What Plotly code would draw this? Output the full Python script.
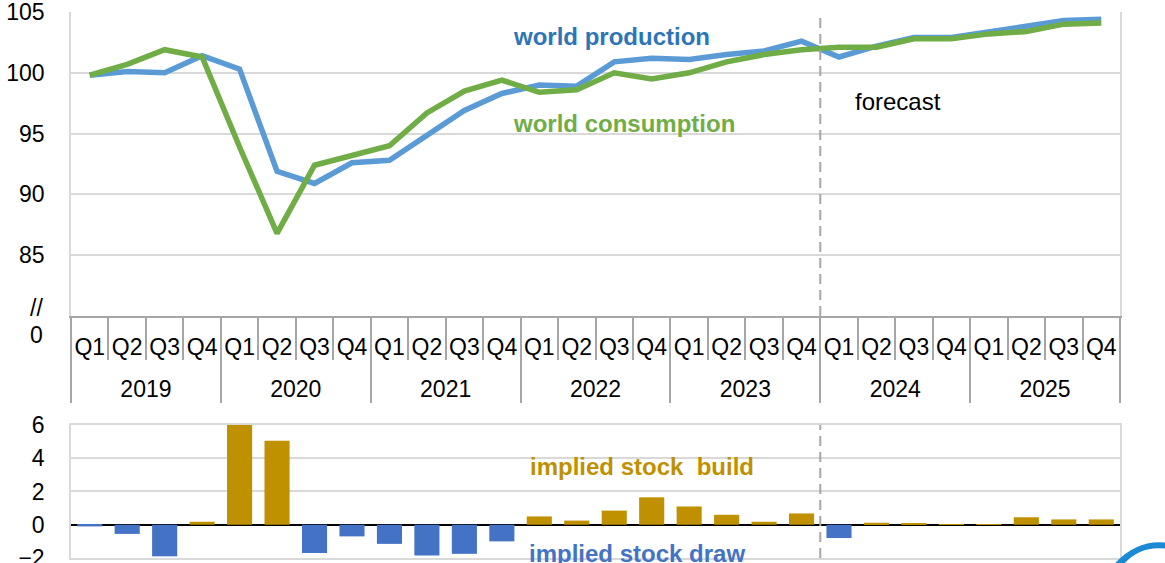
import plotly.graph_objects as go

# Quarterly periods shown on the category axis
years = ["2019", "2020", "2021", "2022", "2023", "2024", "2025"]
quarters = ["Q1", "Q2", "Q3", "Q4"]
cat_year = [y for y in years for _ in quarters]
cat_quarter = [q for _ in years for q in quarters]

# World production and consumption index (top panel)
production = [99.8, 100.1, 100.0, 101.4, 100.3, 91.9, 90.9, 92.6,
              92.8, 94.9, 96.9, 98.3, 99.0, 98.9, 100.9, 101.2,
              101.1, 101.5, 101.8, 102.6, 101.3, 102.2, 102.9, 102.9,
              103.4, 103.9, 104.3, 104.4]
consumption = [99.8, 100.7, 101.9, 101.3, 93.9, 86.8, 92.4, 93.2,
               94.0, 96.7, 98.5, 99.4, 98.4, 98.6, 100.0, 99.5,
               100.0, 100.9, 101.5, 101.9, 102.1, 102.1, 102.8, 102.8,
               103.2, 103.4, 104.0, 104.1]

# Implied stock change (bottom panel)
stock_change = [-0.1, -0.55, -1.9, 0.18, 6.4, 5.05, -1.7, -0.7,
                -1.15, -1.85, -1.75, -1.0, 0.5, 0.25, 0.85, 1.65,
                1.1, 0.6, 0.18, 0.68, -0.8, 0.12, 0.09, 0.02,
                0.01, 0.45, 0.32, 0.32]

forecast_start_year = "2024"

FONT = "Liberation Sans, Arial, sans-serif"
BLUE_LINE = "#5B9BD5"
GREEN_LINE = "#70AD47"
GOLD = "#BF9000"
BAR_BLUE = "#4472C4"
GRID = "#D9D9D9"
AXIS = "#A6A6A6"

# Index positions of the quarters along the shared time axis
n = len(cat_quarter)
pos = list(range(n))
q_bounds = [i - 0.5 for i in range(n + 1)]
per_year = len(quarters)
year_centers = [k * per_year + (per_year - 1) / 2 for k in range(len(years))]
year_bounds = [k * per_year - 0.5 for k in range(len(years) + 1)]
forecast_start = cat_year.index(forecast_start_year) - 0.5
x_range = [-0.5, n - 0.5]

TOP_BOTTOM = 0.4432  # lower edge of the top panel (paper fraction)

fig = go.Figure()

fig.add_trace(go.Scatter(x=pos, y=production, mode="lines",
                         line=dict(color=BLUE_LINE, width=5.5),
                         name="world production", xaxis="x", yaxis="y"))
fig.add_trace(go.Scatter(x=pos, y=consumption, mode="lines",
                         line=dict(color=GREEN_LINE, width=5.5),
                         name="world consumption", xaxis="x", yaxis="y"))
# empty carrier so the year axis gets drawn
fig.add_trace(go.Scatter(x=year_centers, y=[None] * len(year_centers), mode="lines",
                         hoverinfo="skip", showlegend=False, xaxis="x3", yaxis="y"))

bar_colors = [GOLD if v >= 0 else BAR_BLUE for v in stock_change]
fig.add_trace(go.Bar(x=pos, y=stock_change, marker=dict(color=bar_colors, line=dict(width=0)),
                     width=0.67, name="implied stock change", xaxis="x2", yaxis="y2"))

fig.update_layout(
    width=1165, height=563,
    margin=dict(l=71, r=45, t=12, b=5, autoexpand=False),
    paper_bgcolor="white", plot_bgcolor="white",
    showlegend=False,
    font=dict(family=FONT, size=23, color="black"),
    # quarter labels with a separator at every quarter boundary
    xaxis=dict(
        domain=[0, 1], anchor="y", range=x_range, automargin=False,
        showgrid=False, zeroline=False,
        showline=True, linecolor=AXIS, linewidth=2,
        tickmode="array", tickvals=pos, ticktext=cat_quarter, ticks="",
        ticklabelstandoff=9, tickfont=dict(size=23),
        minor=dict(tickmode="array", tickvals=q_bounds, ticks="outside",
                   ticklen=42, tickcolor=AXIS, tickwidth=1.5, showgrid=False),
    ),
    # year labels with full-height separators between years
    xaxis3=dict(
        overlaying="x", anchor="free", position=TOP_BOTTOM, range=x_range,
        automargin=False, showgrid=False, zeroline=False, showline=False,
        tickmode="array", tickvals=year_centers, ticktext=years, ticks="",
        ticklabelstandoff=57, tickfont=dict(size=23),
        minor=dict(tickmode="array", tickvals=year_bounds, ticks="outside",
                   ticklen=86, tickcolor=AXIS, tickwidth=1.5, showgrid=False),
    ),
    yaxis=dict(
        domain=[TOP_BOTTOM, 1], anchor="x", automargin=False,
        range=[80, 105], tickvals=[85, 90, 95, 100, 105],
        showgrid=True, gridcolor=GRID, gridwidth=1.5,
        zeroline=False,
        showline=True, linecolor=GRID, linewidth=1.5, mirror=True,
        ticks="", ticklabelstandoff=20, ticklabeloverflow="allow",
    ),
    xaxis2=dict(
        domain=[0, 1], anchor="y2", range=x_range, automargin=False,
        showticklabels=False, ticks="",
        showgrid=False, zeroline=False,
        showline=True, linecolor=GRID, linewidth=1.5, mirror=True,
    ),
    yaxis2=dict(
        domain=[0, 0.2436], anchor="x2", automargin=False,
        range=[-2, 6], tickvals=[-2, 0, 2, 4, 6],
        showgrid=True, gridcolor=GRID, gridwidth=1.5,
        zeroline=True, zerolinecolor="black", zerolinewidth=2,
        showline=True, linecolor=GRID, linewidth=1.5, mirror=True,
        ticks="", ticklabelstandoff=20, ticklabeloverflow="allow",
    ),
)

# Forecast divider in both panels
dash = dict(color=AXIS, width=2, dash="10px,6px")
fig.add_shape(type="line", xref="x", yref="y", x0=forecast_start, x1=forecast_start,
              y0=80, y1=105, line=dash)
fig.add_shape(type="line", xref="x2", yref="y2", x0=forecast_start, x1=forecast_start,
              y0=-2, y1=6, line=dash)

# Series labels
label = dict(showarrow=False, xanchor="center", yanchor="middle")
fig.add_annotation(xref="paper", yref="y", x=0.5148, y=103.0, text="<b>world production</b>",
                   font=dict(size=24, color="#2E75B6"), **label)
fig.add_annotation(xref="paper", yref="y", x=0.527, y=95.86, text="<b>world consumption</b>",
                   font=dict(size=24, color=GREEN_LINE), **label)
fig.add_annotation(xref="paper", yref="y", x=0.788, y=97.6, text="forecast",
                   font=dict(size=24, color="black"), **label)
fig.add_annotation(xref="paper", yref="y2", x=0.544, y=3.5,
                   text="<b>implied stock\u00a0 build</b>",
                   font=dict(size=24, color=GOLD), **label)
fig.add_annotation(xref="paper", yref="y2", x=0.540, y=-1.7,
                   text="<b>implied stock draw</b>",
                   font=dict(size=24, color=BAR_BLUE), **label)

# Axis break marker on the top panel's value axis
fig.add_annotation(xref="paper", yref="paper", x=-0.0248, y=0.4579, text="//",
                   xanchor="right", showarrow=False, font=dict(size=23))
fig.add_annotation(xref="paper", yref="paper", x=-0.0248, y=0.4084, text="0",
                   xanchor="right", showarrow=False, font=dict(size=23))

# Corner logo swoosh
fig.add_shape(type="path", xref="paper", yref="paper",
              path="M 0.9905,-0.02 Q 1.0143,0.0366 1.0458,0.0275 L 1.0458,0.0165 "
                   "Q 1.0172,0.0256 1.0,-0.02 Z",
              fillcolor="#1A8AD4", line=dict(width=0))

fig.write_html("out.html")
